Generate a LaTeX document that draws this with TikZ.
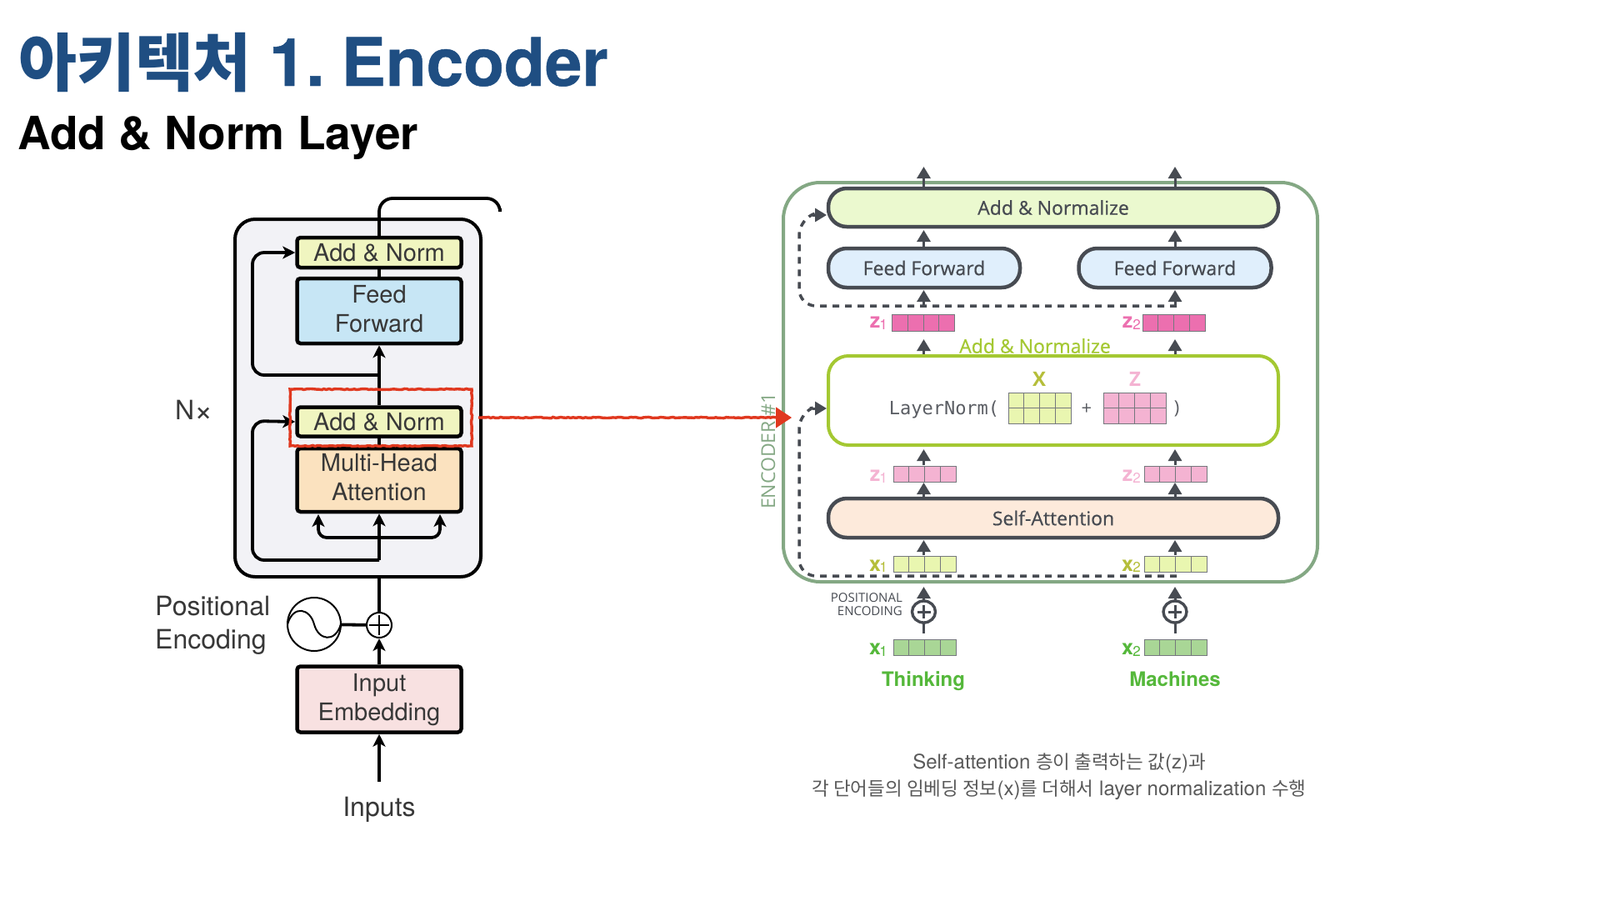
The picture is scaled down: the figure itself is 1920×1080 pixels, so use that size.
\documentclass[tikz,border=0pt]{standalone}
\usepackage{fontspec}
\usetikzlibrary{arrows.meta,calc,decorations.pathmorphing}
\setmainfont{TeX Gyre Heros}
\newfontfamily\kr{Noto Sans CJK KR}
\newfontfamily\osans{Open Sans}
\newfontfamily\osm[FakeBold=0.6]{Open Sans}
\newfontfamily\dmono{DejaVu Sans Mono}
\newfontfamily\heavy[UprightFont=* Bold,FakeBold=0.6]{TeX Gyre Heros}
\definecolor{tblue}{HTML}{1F4E82}
\definecolor{ink}{HTML}{474B52}
\definecolor{encg}{HTML}{84A884}
\definecolor{lime}{HTML}{A4C832}
\definecolor{redm}{HTML}{E0381F}
\definecolor{boxg}{HTML}{F2F2F6}
\definecolor{lyel}{HTML}{F0F5C0}
\definecolor{lblu}{HTML}{C7E6F5}
\definecolor{lora}{HTML}{FBE2BF}
\definecolor{lpin}{HTML}{F8E1E1}
\definecolor{raddn}{HTML}{EBF9CF}
\definecolor{rff}{HTML}{E0EFFC}
\definecolor{rsa}{HTML}{FDEADB}
\definecolor{zdark}{HTML}{EC6FAF}
\definecolor{zlite}{HTML}{F4B3D2}
\definecolor{xlite}{HTML}{E9F6B0}
\definecolor{xgrn}{HTML}{A9D696}
\definecolor{lxol}{HTML}{B5BE3A}
\definecolor{lgrn}{HTML}{55B83B}
\tikzset{
  x=1pt,y=-1pt,
  lbox/.style={draw=black,line width=4.5pt,rounded corners=4pt,inner sep=0pt,minimum width=197pt},
  ltext/.style={align=center,inner sep=0pt,font=\fontsize{29}{35.5}\selectfont,text=black!78},
  ltxt/.style={inner sep=0pt,font=\fontsize{32}{32}\selectfont,text=black!78},
  larr/.style={draw=black,line width=3.8pt,-{Stealth[length=15pt,width=15pt,inset=4pt]}},
  lline/.style={draw=black,line width=3.8pt},
  pill/.style={draw=ink,line width=4.5pt,rounded corners=22pt,inner sep=0pt,font=\osm\fontsize{23}{26}\selectfont,text=ink},
  rarr/.style={draw=ink,line width=3pt,-{Triangle[length=14pt,width=16pt]}},
  dashline/.style={draw=ink,line width=3.5pt,dash pattern=on 8pt off 7pt},
  cell/.style={draw=ink!75,line width=1pt},
  crayon/.style={draw=redm,line width=3.4pt,decorate,decoration={random steps,segment length=3pt,amplitude=0.6pt}},
}
\newcommand{\vecrow}[4]{% x y fill h
  \path[cell,fill=#3] (#1,#2) rectangle ++(75,#4);
  \foreach \k in {18.75,37.5,56.25}{\draw[cell] ($(#1,#2)+(\k,0)$) -- ++(0,#4);}
}
\begin{document}
\begin{tikzpicture}
\useasboundingbox (0,0) rectangle (1920,1080);
\fill[white] (0,0) rectangle (1920,1080);
% titles
\node[anchor=base west,inner sep=0pt,text=tblue] (title) at (22,103) {{\kr\bfseries\fontsize{76}{76}\selectfont 아키텍처}\hspace{21pt}{\heavy\fontsize{80}{80}\selectfont 1.\hspace{20pt}Encoder}};
\node[anchor=base west,inner sep=0pt,text=black,font=\fontsize{55}{55}\selectfont\bfseries] (subtitle) at (21,179) {Add \& Norm Layer};
% LEFT
\draw[black,line width=4pt,fill=boxg,rounded corners=24pt] (282,263) rectangle (577,692);
\draw[lline,rounded corners=16pt] (455,300) -- (455,238) -- (600,238) -- (600,250);
\node[lbox,fill=lyel,minimum height=36pt] (an2) at (455,303) {};
\node[lbox,fill=lblu,minimum height=78pt] (ff) at (455,373) {};
\node[lbox,fill=lyel,minimum height=35pt] (an1) at (455,506) {};
\node[lbox,fill=lora,minimum height=76pt] (mh) at (455,576) {};
\node[lbox,fill=lpin,minimum height=79pt] (ie) at (455,839) {};
\node[ltext] (tan2) at (455,303.5) {Add \& Norm};
\node[ltext] (tff) at (455,370.5) {Feed\\Forward};
\node[ltext] (tan1) at (455,506) {Add \& Norm};
\node[ltext] (tmh) at (455,572.5) {Multi-Head\\Attention};
\node[ltext] (tie) at (455,839.5) {Input\\Embedding};
\node[circle,draw=black,line width=2pt,fill=white,minimum size=30pt,inner sep=0pt] (plus) at (455,750) {};
\draw[black,line width=2pt] (443,750) -- (467,750) (455,738) -- (455,762);
\node[circle,draw=black,line width=2pt,minimum size=64pt,inner sep=0pt] (sine) at (377,749) {};
\draw[black,line width=2pt] (345,749) .. controls (352,725) and (372,730) .. (377,749) .. controls (382,768) and (402,772) .. (409,749);
\draw[lline] (sine) -- (plus);
\draw[lline] (mh.north) -- (an1.south);
\draw[lline] (an2.south) -- (ff.north);
\draw[lline] (an1.north) -- (455,450);
\draw[larr] (455,450) -- (ff.south);
\draw[lline] (455,690) -- (plus.north);
\draw[larr] (455,672) -- (mh.south);
\draw[larr,rounded corners=14pt] (455,450) -- (303,450) -- (303,303) -- (an2.west);
\draw[larr,rounded corners=14pt] (455,672) -- (303,672) -- (303,505) -- (an1.west);
\draw[larr,rounded corners=10pt] (455,645) -- (382,645) -- (382,617);
\draw[larr,rounded corners=10pt] (455,645) -- (528,645) -- (528,617);
\draw[larr] (ie.north) -- (plus.south);
\coordinate (inp) at (455,938);
\draw[larr] (inp) -- (ie.south);
\node[ltxt] (inputs) at (455,971) {Inputs};
\node[ltxt,anchor=base west] (pos) at (186,738) {Positional};
\node[ltxt,anchor=base west] (enc) at (186,778) {Encoding};
\node[ltxt,anchor=base west] (nx) at (210,503) {N\raisebox{-2pt}{\fontsize{38}{38}\selectfont ×}};
% RIGHT
\draw[encg,line width=4pt,rounded corners=44pt] (940,219) rectangle (1581,698);
\node[rotate=90,inner sep=0pt,text=encg,font=\osans\fontsize{23}{23}\selectfont] (enclab) at (922,541) {ENCODER \#1};
% arrows
\foreach \x in {1108.5,1410}{
  \draw[rarr] (\x,224) -- (\x,200);
  \draw[rarr] (\x,298) -- (\x,276);
  \draw[rarr] (\x,367) -- (\x,348);
  \draw[rarr] (\x,427) -- (\x,407);
  \draw[rarr] (\x,558) -- (\x,539);
  \draw[rarr] (\x,598) -- (\x,579);
  \draw[rarr] (\x,666) -- (\x,648);
  \draw[rarr] (\x,724) -- (\x,704);
  \draw[ink,line width=3pt] (\x,760) -- (\x,746);
  \draw[ink,line width=3.4pt,fill=white] (\x,734) ellipse [x radius=14pt,y radius=13pt];
  \draw[ink,line width=3pt] (\x-8,734) -- (\x+8,734) (\x,726) -- (\x,742);
}
\node[pill,fill=raddn,minimum width=540pt,minimum height=46pt] (addn) at (1264,249) {Add \& Normalize};
\node[pill,fill=rff,minimum width=230pt,minimum height=47pt] (ff1) at (1109,321.5) {Feed Forward};
\node[pill,fill=rff,minimum width=231pt,minimum height=47pt] (ff2) at (1410,321.5) {Feed Forward};
\node[pill,fill=rsa,minimum width=540pt,minimum height=47pt] (sa) at (1264,621.5) {Self-Attention};
\node[draw=lime,line width=4pt,rounded corners=24pt,fill=none,minimum width=540pt,minimum height=107pt,inner sep=0pt] (ln2) at (1264,480.5) {};
% vectors
\vecrow{1070.5}{377}{zdark}{20}
\vecrow{1371}{377}{zdark}{20}
\vecrow{1072}{559}{zlite}{19}
\vecrow{1373}{559}{zlite}{19}
\vecrow{1072}{667}{xlite}{19}
\vecrow{1373}{667}{xlite}{19}
\vecrow{1072}{767}{xgrn}{19}
\vecrow{1373}{767}{xgrn}{19}
% grids
\vecrow{1210}{471}{xlite}{37}
\draw[cell] (1210,489.5) -- ++(75,0);
\vecrow{1324}{471}{zlite}{37}
\draw[cell] (1324,489.5) -- ++(75,0);
% labels
\node[inner sep=0pt,anchor=base,text=ink!90,font=\dmono\fontsize{22}{22}\selectfont] (lnt) at (1133,497) {LayerNorm(};
\node[inner sep=0pt,text=ink!90,font=\osans\fontsize{22}{22}\selectfont] (pl) at (1304,491) {+};
\node[inner sep=0pt,text=ink!90,font=\osans\fontsize{22}{22}\selectfont] (rp) at (1412,490) {)};
\node[inner sep=0pt,text=lxol,font=\osans\bfseries\fontsize{24}{24}\selectfont] (xl) at (1247,455) {X};
\node[inner sep=0pt,text=zlite,font=\osans\bfseries\fontsize{24}{24}\selectfont] (zl) at (1362,455) {Z};
\node[inner sep=0pt,text=lime,font=\osm\fontsize{23}{23}\selectfont] (aln2) at (1242,415) {Add \& Normalize};
\foreach \xx/\t/\c/\yy in {1050/z/zdark/393,1353/z/zdark/393,1050/z/zlite/577,1353/z/zlite/577,1050/x/lxol/685,1353/x/lxol/685,1050/x/lgrn/785,1353/x/lgrn/785}{
  \node[inner sep=0pt,anchor=base,text=\c,font=\fontsize{25}{25}\selectfont\bfseries] at (\xx,\yy) {\t};
}
\foreach \xx/\t/\c/\yy in {1060/1/zdark/395,1364/2/zdark/395,1060/1/zlite/579,1364/2/zlite/579,1060/1/lxol/686,1364/2/lxol/686,1060/1/lgrn/787,1364/2/lgrn/787}{
  \node[inner sep=0pt,anchor=base,text=\c,font=\fontsize{17}{17}\selectfont] at (\xx,\yy) {\t};
}
\node[inner sep=0pt,anchor=base east,text=ink,font=\osans\fontsize{15}{15}\selectfont] (pe1) at (1083,722) {POSITIONAL};
\node[inner sep=0pt,anchor=base east,text=ink,font=\osans\fontsize{15}{15}\selectfont] (pe2) at (1083,738) {ENCODING};
\node[inner sep=0pt,anchor=base,text=lgrn,font=\fontsize{24}{24}\selectfont\bfseries] (think) at (1108,823) {Thinking};
\node[inner sep=0pt,anchor=base,text=lgrn,font=\fontsize{24}{24}\selectfont\bfseries] (mach) at (1410,823) {Machines};
\newcommand{\krc}{\kr\fontsize{22.5}{32}\selectfont}
\node[inner sep=0pt,align=center,text=black!65,font=\fontsize{24}{32}\selectfont] (cap) at (1271,932) {Self-attention {\krc 층이 출력하는 값}(z){\krc 과}\\{\krc 각 단어들의 임베딩 정보}(x){\krc 를 더해서} layer normalization {\krc 수행}};
% dashed skip
\draw[dashline,rounded corners=20pt] (1412,367) -- (959,367) -- (959,262) -- (972,258);
\draw[rarr] (975,258) -- (992,258);
\draw[dashline,rounded corners=20pt] (1412,691) -- (959,691) -- (959,494) -- (972,490);
\draw[rarr] (975,490) -- (992,490);
% red
\coordinate (ra) at (574,501);
\coordinate (rb) at (936,501);
\coordinate (rc) at (950,501);
\draw[crayon] (348,467) rectangle (566,535);
\draw[crayon] (ra) -- (rb);
\draw[redm,line width=1pt,fill=redm,-{Triangle[length=19pt,width=25pt]}] (rb) -- (rc);
\end{tikzpicture}
\end{document}
